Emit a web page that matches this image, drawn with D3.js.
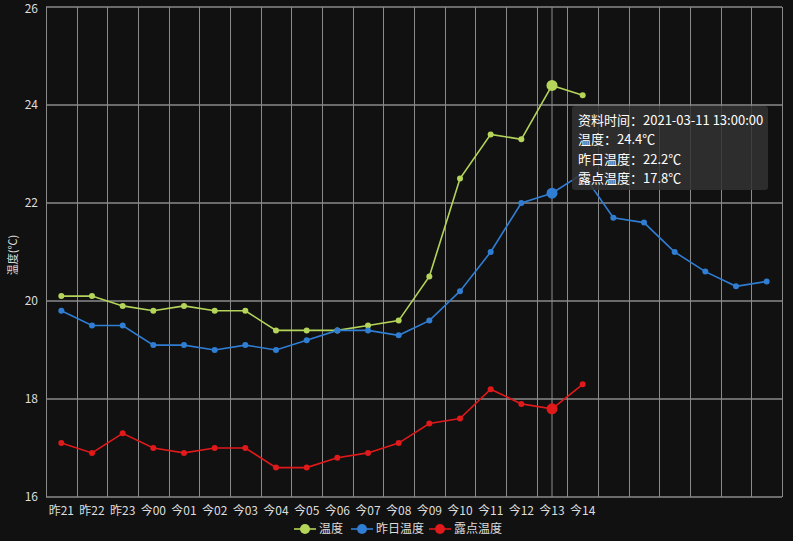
<!DOCTYPE html>
<html><head><meta charset="utf-8">
<script src="https://cdn.jsdelivr.net/npm/d3@7"></script>
<style>
html,body{margin:0;padding:0;background:#111111;}
svg{display:block;font-family:"Microsoft YaHei","Noto Sans CJK SC","Noto Sans",sans-serif;}
</style></head>
<body><svg id="c" width="793" height="541"></svg>
<script>
const categories = ['昨21','昨22','昨23','今00','今01','今02','今03','今04','今05','今06','今07','今08','今09','今10','今11','今12','今13','今14','今15','今16','今17','今18','今19','今20'];
const tickLabels = ['昨21','昨22','昨23','今00','今01','今02','今03','今04','今05','今06','今07','今08','今09','今10','今11','今12','今13','今14','','','','','',''];
const temp = [20.1,20.1,19.9,19.8,19.9,19.8,19.8,19.4,19.4,19.4,19.5,19.6,20.5,22.5,23.4,23.3,24.4,24.2];
const yesterday = [19.8,19.5,19.5,19.1,19.1,19.0,19.1,19.0,19.2,19.4,19.4,19.3,19.6,20.2,21.0,22.0,22.2,22.6,21.7,21.6,21.0,20.6,20.3,20.4];
const dew = [17.1,16.9,17.3,17.0,16.9,17.0,17.0,16.6,16.6,16.8,16.9,17.1,17.5,17.6,18.2,17.9,17.8,18.3];
const yTicks = [16,18,20,22,24,26];
const seriesNames = ['温度','昨日温度','露点温度'];
const colors = ['#b5d55a','#2f7ed3','#e0191b'];
const hoverIndex = 16;
const hoverTime = '2021-03-11 13:00:00';

const svg = d3.select('#c');
const L = 46, R = 782, T = 7, B = 497;
const x = d3.scaleBand().domain(d3.range(categories.length)).range([L, R]);
const y = d3.scaleLinear().domain([16, 26]).range([B, T]);
const cx = i => x(i) + x.bandwidth() / 2;

svg.append('g').selectAll('line').data(yTicks).join('line')
  .attr('x1', L).attr('x2', R).attr('y1', d => y(d)).attr('y2', d => y(d))
  .attr('stroke', '#8a8a8a').attr('stroke-width', 1.3);
const bounds = d3.range(categories.length + 1).map(i => i < categories.length ? x(i) : R);
svg.append('g').selectAll('line').data(bounds).join('line')
  .attr('x1', d => Math.round(d) + 0.5).attr('x2', d => Math.round(d) + 0.5).attr('y1', T).attr('y2', B)
  .attr('stroke', '#8a8a8a').attr('stroke-width', 1);

svg.append('g').selectAll('text').data(yTicks).join('text')
  .attr('x', 38).attr('y', d => Math.max(y(d), 8.5)).attr('dy', '0.35em').attr('text-anchor', 'end')
  .attr('fill', '#dddddd').attr('font-size', 12).text(d => d);
svg.append('g').selectAll('text').data(d3.range(categories.length)).join('text')
  .attr('x', i => cx(i)).attr('y', 511).attr('dy', '0.35em').attr('text-anchor', 'middle')
  .attr('fill', '#dddddd').attr('font-size', 12).text(i => tickLabels[i]);
svg.append('text').attr('transform', 'translate(13,255) rotate(-90)').attr('text-anchor', 'middle')
  .attr('dy', '0.35em').attr('fill', '#dddddd').attr('font-size', 11).text('温度(℃)');

svg.append('line').attr('x1', cx(hoverIndex)).attr('x2', cx(hoverIndex)).attr('y1', T).attr('y2', B)
  .attr('stroke', '#8f8f8f').attr('stroke-width', 1);

const allSeries = [temp, yesterday, dew];
const line = d3.line().x((d, i) => cx(i)).y(d => y(d));
allSeries.forEach((s, k) => {
  const g = svg.append('g');
  g.append('path').attr('d', line(s)).attr('fill', 'none').attr('stroke', colors[k]).attr('stroke-width', 1.6);
  g.selectAll('circle').data(s).join('circle')
    .attr('cx', (d, i) => cx(i)).attr('cy', d => y(d))
    .attr('r', (d, i) => i === hoverIndex ? 5.5 : 3)
    .attr('fill', colors[k]);
});

const tipX = 572, tipY = 106;
const tg = svg.append('g').attr('transform', `translate(${tipX},${tipY})`);
tg.append('rect').attr('width', 196).attr('height', 84).attr('rx', 3)
  .attr('fill', 'rgba(50,50,50,0.85)');
const tipLines = ['资料时间：' + hoverTime,
  seriesNames[0] + '：' + temp[hoverIndex] + '℃',
  seriesNames[1] + '：' + yesterday[hoverIndex] + '℃',
  seriesNames[2] + '：' + dew[hoverIndex] + '℃'];
tg.selectAll('text').data(tipLines).join('text')
  .attr('x', 6).attr('y', (d, i) => 14 + i * 19.5).attr('dy', '0.35em')
  .attr('fill', '#ffffff').attr('font-size', 13).text(d => d);

const legendX = [305, 362, 440];
const lg = svg.append('g');
seriesNames.forEach((n, k) => {
  const g = lg.append('g').attr('transform', `translate(${legendX[k]},529)`);
  g.append('line').attr('x1', -11).attr('x2', 11).attr('stroke', colors[k]).attr('stroke-width', 1.6);
  g.append('circle').attr('r', 5).attr('fill', colors[k]);
  g.append('text').attr('x', 14).attr('dy', '0.35em').attr('fill', '#dddddd').attr('font-size', 12).text(n);
});
</script></body></html>
